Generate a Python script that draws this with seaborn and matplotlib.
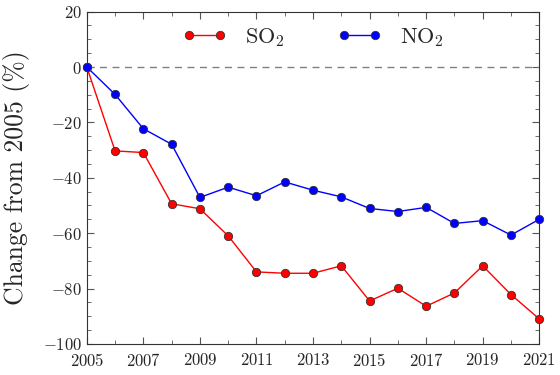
import seaborn as sns
import matplotlib.pyplot as plt
import pandas as pd
from matplotlib.ticker import MultipleLocator

years = list(range(2005, 2022))
so2 = [0, -30.3, -30.9, -49.4, -51.2, -61.0, -74.0, -74.5, -74.5, -71.8,
       -84.5, -79.9, -86.4, -81.6, -71.8, -82.2, -91.0]
no2 = [0, -9.9, -22.3, -27.9, -47.1, -43.4, -46.5, -41.5, -44.5, -46.9,
       -51.1, -52.2, -50.7, -56.5, -55.5, -60.7, -55.0]

df = pd.DataFrame({
    'year': years * 2,
    'change': so2 + no2,
    'gas': ['SO$_2$'] * len(years) + ['NO$_2$'] * len(years),
})

sns.set_style('ticks')
plt.rcParams['font.family'] = 'serif'
plt.rcParams['font.serif'] = ['cmr10']
plt.rcParams['mathtext.fontset'] = 'cm'
plt.rcParams['axes.formatter.use_mathtext'] = True

fig = plt.figure(figsize=(5.6, 3.75), dpi=100)
ax = fig.add_axes([0.155, 0.083, 0.808, 0.886])

ax.axhline(0, color='gray', ls=(0, (5, 4)), lw=1, zorder=1)
sns.lineplot(data=df, x='year', y='change', hue='gas',
             palette={'SO$_2$': 'red', 'NO$_2$': 'blue'},
             marker='o', markersize=6, markeredgecolor='#333333',
             markeredgewidth=0.6, lw=1, ax=ax, clip_on=False, zorder=3)

ax.set_xlim(2005, 2021)
ax.set_ylim(-100, 20)
ax.set_xticks(years[::2])
ax.xaxis.set_minor_locator(MultipleLocator(1))
ax.yaxis.set_major_locator(MultipleLocator(20))
ax.yaxis.set_minor_locator(MultipleLocator(5))
ax.tick_params(which='both', direction='in', top=True, right=True,
               labelsize=12, color='#555555')
ax.tick_params(which='major', length=5)
ax.tick_params(which='minor', length=3)
ax.tick_params(axis='x', pad=6)
for s in ax.spines.values():
    s.set_color('#333333')

ax.set_xlabel('')
ax.set_ylabel('Change from 2005 (%)', fontsize=18.5)
ax.yaxis.set_label_coords(-0.125, 0.5)
ax.legend(loc='upper center', ncol=2, frameon=False, fontsize=16,
          numpoints=2, handlelength=2.0, handletextpad=0.8,
          columnspacing=2.4, borderaxespad=0.25)

fig.savefig('out.png', dpi=100)
